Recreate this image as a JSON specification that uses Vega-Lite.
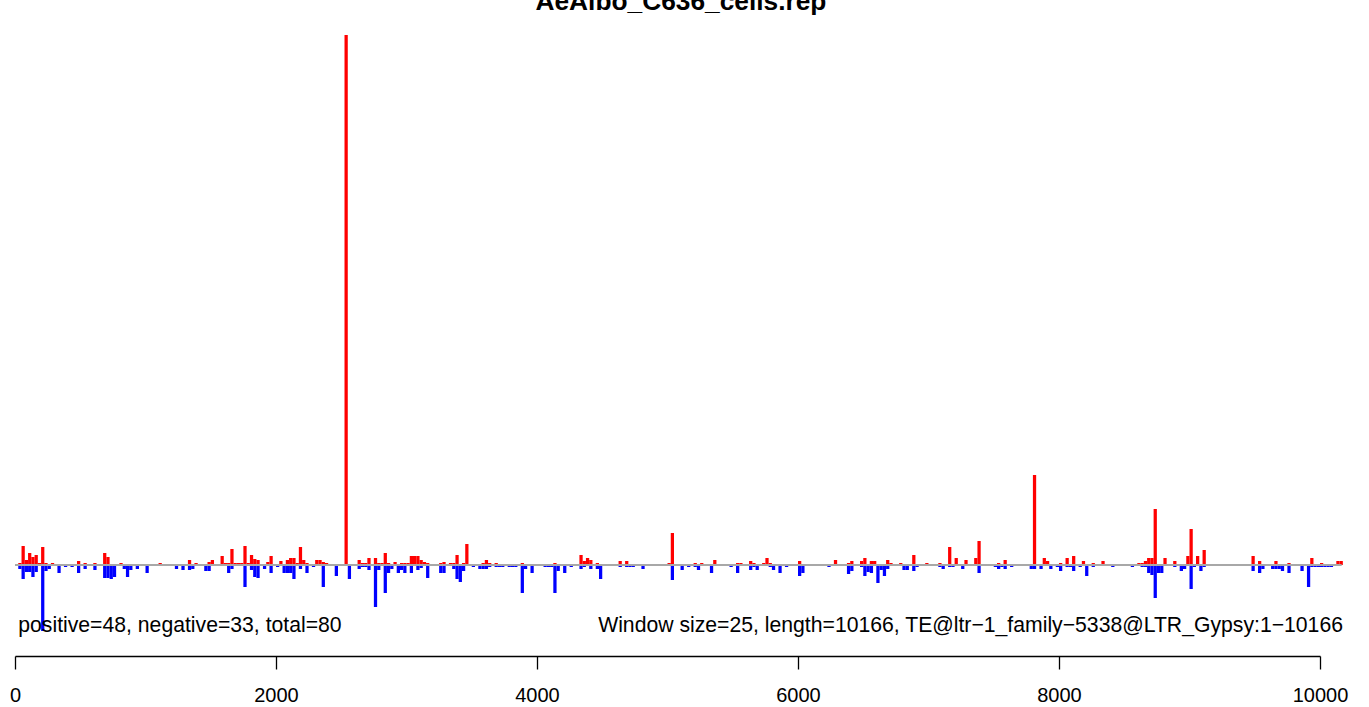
{
"$schema": "https://vega.github.io/schema/vega-lite/v6.json",
"width": 1369, "height": 707, "autosize": {"type": "none"}, "padding": 0,
"background": "white",
"config": {"view": {"stroke": null}, "font": "Liberation Sans"},
"layer": [
{"data": {"values": [
{"s":25,"v":2},{"s":50,"v":19},{"s":75,"v":5},{"s":100,"v":12},{"s":125,"v":8},{"s":150,"v":10},{"s":175,"v":2},{"s":200,"v":18},{"s":225,"v":2},{"s":275,"v":2},{"s":300,"v":1},{"s":350,"v":1},{"s":475,"v":4},{"s":525,"v":2},{"s":600,"v":2},{"s":675,"v":12},{"s":700,"v":8},{"s":800,"v":2},{"s":825,"v":1},{"s":1100,"v":2},{"s":1125,"v":1},{"s":1150,"v":1},{"s":1225,"v":1},{"s":1325,"v":5},{"s":1375,"v":2},{"s":1475,"v":3},{"s":1500,"v":5},{"s":1575,"v":9},{"s":1600,"v":2},{"s":1625,"v":2},{"s":1650,"v":16},{"s":1675,"v":2},{"s":1700,"v":2},{"s":1725,"v":2},{"s":1750,"v":19},{"s":1775,"v":2},{"s":1800,"v":10},{"s":1825,"v":6},{"s":1850,"v":5},{"s":1925,"v":3},{"s":1950,"v":9},{"s":2025,"v":4},{"s":2075,"v":5},{"s":2100,"v":7},{"s":2125,"v":7},{"s":2150,"v":2},{"s":2175,"v":18},{"s":2200,"v":5},{"s":2225,"v":2},{"s":2275,"v":1},{"s":2300,"v":5},{"s":2325,"v":5},{"s":2350,"v":3},{"s":2375,"v":2},{"s":2450,"v":1},{"s":2525,"v":530},{"s":2625,"v":5},{"s":2650,"v":2},{"s":2675,"v":2},{"s":2700,"v":7},{"s":2750,"v":7},{"s":2775,"v":2},{"s":2800,"v":2},{"s":2825,"v":12},{"s":2850,"v":2},{"s":2900,"v":3},{"s":2950,"v":2},{"s":2975,"v":2},{"s":3000,"v":2},{"s":3025,"v":9},{"s":3050,"v":9},{"s":3075,"v":9},{"s":3100,"v":5},{"s":3125,"v":3},{"s":3150,"v":2},{"s":3200,"v":1},{"s":3250,"v":2},{"s":3275,"v":3},{"s":3300,"v":1},{"s":3325,"v":2},{"s":3350,"v":2},{"s":3375,"v":10},{"s":3400,"v":1},{"s":3425,"v":2},{"s":3450,"v":21},{"s":3550,"v":1},{"s":3575,"v":2},{"s":3600,"v":5},{"s":3625,"v":2},{"s":3675,"v":2},{"s":3800,"v":1},{"s":3825,"v":1},{"s":3850,"v":1},{"s":3875,"v":2},{"s":3975,"v":1},{"s":4050,"v":1},{"s":4075,"v":1},{"s":4125,"v":2},{"s":4225,"v":1},{"s":4325,"v":10},{"s":4350,"v":4},{"s":4375,"v":7},{"s":4400,"v":5},{"s":4450,"v":2},{"s":4525,"v":1},{"s":4575,"v":1},{"s":4625,"v":4},{"s":4675,"v":4},{"s":4775,"v":1},{"s":4850,"v":1},{"s":4925,"v":1},{"s":5000,"v":2},{"s":5025,"v":32},{"s":5100,"v":1},{"s":5175,"v":1},{"s":5200,"v":2},{"s":5225,"v":1},{"s":5250,"v":2},{"s":5325,"v":1},{"s":5350,"v":5},{"s":5400,"v":1},{"s":5525,"v":2},{"s":5550,"v":2},{"s":5625,"v":4},{"s":5650,"v":2},{"s":5675,"v":1},{"s":5700,"v":1},{"s":5725,"v":2},{"s":5750,"v":7},{"s":5775,"v":2},{"s":5800,"v":1},{"s":5825,"v":1},{"s":6000,"v":4},{"s":6050,"v":1},{"s":6175,"v":1},{"s":6200,"v":1},{"s":6275,"v":5},{"s":6325,"v":1},{"s":6375,"v":2},{"s":6400,"v":4},{"s":6475,"v":4},{"s":6500,"v":7},{"s":6550,"v":4},{"s":6575,"v":4},{"s":6600,"v":1},{"s":6625,"v":1},{"s":6675,"v":5},{"s":6700,"v":2},{"s":6775,"v":2},{"s":6800,"v":1},{"s":6875,"v":10},{"s":6900,"v":1},{"s":6925,"v":1},{"s":6950,"v":1},{"s":6975,"v":2},{"s":7025,"v":1},{"s":7050,"v":1},{"s":7075,"v":2},{"s":7150,"v":18},{"s":7200,"v":7},{"s":7275,"v":5},{"s":7350,"v":7},{"s":7375,"v":24},{"s":7450,"v":1},{"s":7475,"v":1},{"s":7525,"v":2},{"s":7575,"v":5},{"s":7625,"v":1},{"s":7775,"v":1},{"s":7800,"v":90},{"s":7825,"v":1},{"s":7850,"v":1},{"s":7875,"v":7},{"s":7900,"v":4},{"s":8000,"v":2},{"s":8050,"v":7},{"s":8100,"v":9},{"s":8175,"v":4},{"s":8200,"v":1},{"s":8250,"v":2},{"s":8275,"v":1},{"s":8325,"v":4},{"s":8400,"v":1},{"s":8425,"v":1},{"s":8475,"v":1},{"s":8550,"v":1},{"s":8600,"v":2},{"s":8625,"v":2},{"s":8650,"v":4},{"s":8675,"v":7},{"s":8700,"v":7},{"s":8725,"v":56},{"s":8750,"v":1},{"s":8800,"v":7},{"s":8875,"v":4},{"s":8925,"v":1},{"s":8975,"v":9},{"s":9000,"v":36},{"s":9025,"v":1},{"s":9050,"v":9},{"s":9100,"v":15},{"s":9125,"v":1},{"s":9225,"v":1},{"s":9325,"v":1},{"s":9350,"v":1},{"s":9475,"v":9},{"s":9525,"v":4},{"s":9625,"v":1},{"s":9650,"v":4},{"s":9700,"v":1},{"s":9750,"v":2},{"s":9775,"v":1},{"s":9800,"v":1},{"s":9825,"v":1},{"s":9850,"v":1},{"s":9875,"v":1},{"s":9900,"v":1},{"s":9925,"v":7},{"s":9950,"v":1},{"s":10000,"v":2},{"s":10050,"v":1},{"s":10125,"v":4},{"s":10150,"v":4},
{"s":25,"v":-4},{"s":50,"v":-14},{"s":75,"v":-7},{"s":100,"v":-7},{"s":125,"v":-12},{"s":150,"v":-7},{"s":200,"v":-66},{"s":225,"v":-6},{"s":250,"v":-4},{"s":325,"v":-8},{"s":375,"v":-2},{"s":425,"v":-2},{"s":475,"v":-8},{"s":525,"v":-4},{"s":600,"v":-5},{"s":675,"v":-13},{"s":700,"v":-13},{"s":725,"v":-14},{"s":750,"v":-12},{"s":825,"v":-4},{"s":850,"v":-12},{"s":875,"v":-5},{"s":925,"v":-4},{"s":1000,"v":-8},{"s":1225,"v":-4},{"s":1275,"v":-5},{"s":1325,"v":-5},{"s":1350,"v":-4},{"s":1450,"v":-6},{"s":1475,"v":-6},{"s":1625,"v":-8},{"s":1650,"v":-4},
{"s":1750,"v":-22},{"s":1800,"v":-5},{"s":1825,"v":-12},{"s":1850,"v":-13},{"s":1900,"v":-4},{"s":1950,"v":-8},{"s":2000,"v":-2},{"s":2050,"v":-8},{"s":2075,"v":-8},{"s":2100,"v":-8},{"s":2125,"v":-14},{"s":2175,"v":-4},{"s":2225,"v":-8},{"s":2275,"v":-2},{"s":2350,"v":-22},{"s":2450,"v":-11},{"s":2550,"v":-14},{"s":2625,"v":-4},{"s":2650,"v":-2},{"s":2675,"v":-2},{"s":2700,"v":-5},{"s":2750,"v":-42},{"s":2775,"v":-5},{"s":2825,"v":-28},{"s":2850,"v":-8},{"s":2875,"v":-4},{"s":2925,"v":-8},{"s":2950,"v":-5},{"s":2975,"v":-8},{"s":3025,"v":-8},{"s":3075,"v":-5},{"s":3100,"v":-3},{"s":3150,"v":-13},{"s":3250,"v":-8},{"s":3275,"v":-8},
{"s":3350,"v":-4},{"s":3375,"v":-14},{"s":3400,"v":-17},{"s":3425,"v":-6},{"s":3500,"v":-2},{"s":3550,"v":-4},{"s":3575,"v":-4},{"s":3600,"v":-4},{"s":3625,"v":-2},{"s":3675,"v":-2},{"s":3700,"v":-2},{"s":3725,"v":-2},{"s":3775,"v":-2},{"s":3800,"v":-2},{"s":3825,"v":-2},{"s":3875,"v":-28},{"s":3900,"v":-4},{"s":3950,"v":-8},{"s":4050,"v":-2},{"s":4075,"v":-2},{"s":4100,"v":-2},{"s":4125,"v":-28},{"s":4150,"v":-6},{"s":4200,"v":-8},{"s":4250,"v":-2},{"s":4325,"v":-4},{"s":4350,"v":-2},{"s":4400,"v":-4},{"s":4450,"v":-4},{"s":4475,"v":-14},{"s":4625,"v":-2},{"s":4675,"v":-2},{"s":4700,"v":-2},{"s":4725,"v":-2},{"s":4800,"v":-4},{"s":5025,"v":-15},
{"s":5100,"v":-5},{"s":5150,"v":-2},{"s":5200,"v":-2},{"s":5225,"v":-5},{"s":5325,"v":-8},{"s":5475,"v":-2},{"s":5525,"v":-8},{"s":5625,"v":-5},{"s":5650,"v":-2},{"s":5675,"v":-5},{"s":5775,"v":-2},{"s":5800,"v":-5},{"s":5850,"v":-8},{"s":5900,"v":-2},{"s":6000,"v":-11},{"s":6025,"v":-8},{"s":6225,"v":-2},{"s":6375,"v":-9},{"s":6400,"v":-6},{"s":6475,"v":-2},{"s":6500,"v":-11},{"s":6525,"v":-7},{"s":6550,"v":-8},{"s":6600,"v":-18},{"s":6625,"v":-5},{"s":6650,"v":-11},{"s":6675,"v":-4},
{"s":6800,"v":-5},{"s":6825,"v":-5},{"s":6875,"v":-6},{"s":6900,"v":-2},{"s":7075,"v":-2},{"s":7100,"v":-4},{"s":7150,"v":-2},{"s":7175,"v":-2},{"s":7250,"v":-4},{"s":7375,"v":-8},{"s":7500,"v":-2},{"s":7525,"v":-4},{"s":7550,"v":-2},{"s":7575,"v":-4},{"s":7625,"v":-2},{"s":7775,"v":-4},{"s":7800,"v":-4},{"s":7850,"v":-4},{"s":7925,"v":-4},{"s":7975,"v":-2},{"s":8000,"v":-6},{"s":8050,"v":-2},{"s":8075,"v":-2},{"s":8100,"v":-6},{"s":8150,"v":-2},{"s":8200,"v":-11},{"s":8250,"v":-2},
{"s":8400,"v":-2},{"s":8550,"v":-2},{"s":8625,"v":-2},{"s":8650,"v":-2},{"s":8675,"v":-8},{"s":8700,"v":-10},{"s":8725,"v":-33},{"s":8750,"v":-8},{"s":8775,"v":-8},{"s":8875,"v":-2},{"s":8925,"v":-6},{"s":8950,"v":-4},{"s":9000,"v":-24},{"s":9025,"v":-2},{"s":9075,"v":-6},{"s":9100,"v":-2},{"s":9475,"v":-6},{"s":9525,"v":-8},{"s":9550,"v":-4},{"s":9625,"v":-4},{"s":9650,"v":-4},{"s":9675,"v":-4},{"s":9700,"v":-6},{"s":9750,"v":-8},{"s":9850,"v":-6},{"s":9900,"v":-22},{"s":9925,"v":-2},{"s":9950,"v":-2},{"s":9975,"v":-2},{"s":10000,"v":-2},{"s":10025,"v":-2},{"s":10050,"v":-2},{"s":10075,"v":-2}
]},
 "mark": {"type": "bar", "width": 3.2625, "xOffset": 1.63},
 "encoding": {
  "x": {"field": "s", "type": "quantitative", "title": null,
        "scale": {"domain": [0, 10000], "range": [15, 1320], "nice": false, "zero": false, "padding": 0},
        "axis": {"values": [0, 2000, 4000, 6000, 8000, 10000], "offset": -51, "title": null, "grid": false,
                 "domainColor": "black", "tickColor": "black", "tickSize": 13, "domainWidth": 1.3, "tickWidth": 1.3,
                 "labelFontSize": 20, "labelColor": "black", "labelFont": "Liberation Sans", "labelBaseline": "alphabetic",
                 "labelPadding": 32, "labelFlush": false, "labelOverlap": false, "format": "d"}},
  "y": {"field": "v", "type": "quantitative", "title": null, "stack": null,
        "scale": {"domain": [-142, 565], "nice": false, "zero": false, "padding": 0}, "axis": null},
  "y2": {"datum": 0},
  "color": {"condition": {"test": "datum.v > 0", "value": "#FF0000"}, "value": "#0000FF"}
 }},
{"data": {"values": [{"label": "baseline"}]},
 "mark": {"type": "rule", "color": "#A8A8A8", "strokeWidth": 2},
 "encoding": {"x": {"datum": 0, "type": "quantitative", "title": null}, "x2": {"datum": 10166}, "y": {"datum": 0, "type": "quantitative", "title": null}}},
{"data": {"values": [{"label": "positive=48, negative=33, total=80"}]},
 "mark": {"type": "text", "align": "left", "baseline": "alphabetic", "fontSize": 21.2, "font": "Liberation Sans", "color": "black"},
 "encoding": {"x": {"datum": 25, "type": "quantitative", "title": null}, "y": {"datum": -67, "type": "quantitative", "title": null},
              "text": {"field": "label"}}},
{"data": {"values": [{"label": "Window size=25, length=10166, TE@ltr\u22121_family\u22125338@LTR_Gypsy:1\u221210166"}]},
 "mark": {"type": "text", "align": "right", "baseline": "alphabetic", "fontSize": 21.2, "font": "Liberation Sans", "color": "black"},
 "encoding": {"x": {"datum": 10176, "type": "quantitative", "title": null}, "y": {"datum": -67, "type": "quantitative", "title": null},
              "text": {"field": "label"}}},
{"data": {"values": [{"label": "AeAlbo_C636_cells.rep"}]},
 "mark": {"type": "text", "align": "center", "baseline": "alphabetic", "fontSize": 26.3, "fontWeight": "bold", "font": "Liberation Sans", "color": "black"},
 "encoding": {"x": {"datum": 5103, "type": "quantitative", "title": null}, "y": {"datum": 555.5, "type": "quantitative", "title": null},
              "text": {"field": "label"}}}
]
}
